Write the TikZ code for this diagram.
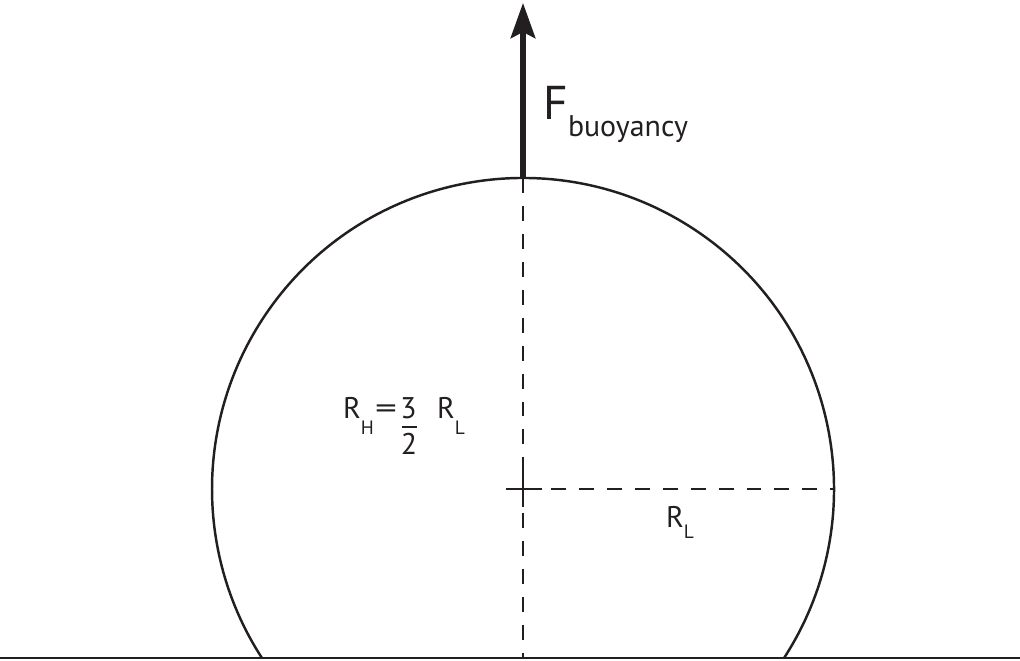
\documentclass[tikz,border=0pt]{standalone}
\usepackage{fontspec}
\setmainfont{PT Sans}
\usepackage{tikz}
\usetikzlibrary{arrows.meta,positioning,calc}
\definecolor{ink}{RGB}{35,31,32}

\begin{document}
\begin{tikzpicture}[
  every node/.style={inner sep=0pt,outer sep=0pt,text=ink,anchor=base west},
  outline/.style={draw=ink,line width=1.4pt},
  guide/.style={draw=ink,line width=1.3pt,dash pattern=on 8.5pt off 7.4pt},
  big/.style={font=\fontsize{17}{17}\selectfont},
  sub/.style={font=\fontsize{11}{11}\selectfont}]
\useasboundingbox (0,0) rectangle (20.4,13.22);
% geometry
\coordinate (c) at (10.46,3.44);
\coordinate (top) at (10.46,9.66);
\coordinate (rgt) at (16.68,3.44);
\coordinate (bot) at (10.46,0.06);
\coordinate (tip) at (10.46,13.16);
\coordinate (gl) at (0,0.06);
\coordinate (gr) at (20.4,0.06);
% ground and droplet
\draw[outline,line width=1.7pt] (gl) -- (gr);
\draw[outline] ($(c)+(-32.9:6.22)$) arc[start angle=-32.9,end angle=212.9,radius=6.22];
\draw[guide] (top) -- (bot);
\draw[guide] (c) -- (rgt);
\draw[outline,line width=1.2pt] ($(c)+(-0.34,0)$) -- ($(c)+(0.38,0)$);
\draw[outline,line width=1.2pt] ($(c)+(0,0.38)$) -- ($(c)+(0,-0.36)$);
% force
\draw[ink,line width=3pt,-{Stealth[length=20pt,width=14pt,inset=3.5pt]}] (top) -- (tip);
\node[font=\fontsize{27}{27}\selectfont] (F) at (10.86,10.82) {F};
\node[big] (Fsub) at (11.36,10.48) {buoyancy};
% radii
\foreach \nm/\x/\y/\s/\dy in {RH/6.86/4.84/H/0.32, RL/8.74/4.84/L/0.32, RR/13.32/2.66/L/0.22}{
  \node[big] (\nm) at (\x,\y) {R};
  \node[sub] (\nm s) at ($(\nm.base east)+(0,-\dy)$) {\s};
}
\node[big] (eq) at (7.5,4.84) {\scalebox{1.45}[1]{=}};
\node[big,anchor=base] (num) at (8.17,4.84) {3};
\node[big,anchor=base] (den) at (8.18,4.12) {2};
\coordinate (barl) at (8.04,4.68);
\coordinate (barr) at (8.34,4.68);
\draw[ink,line width=1.1pt] (barl) -- (barr);
\end{tikzpicture}
\end{document}
